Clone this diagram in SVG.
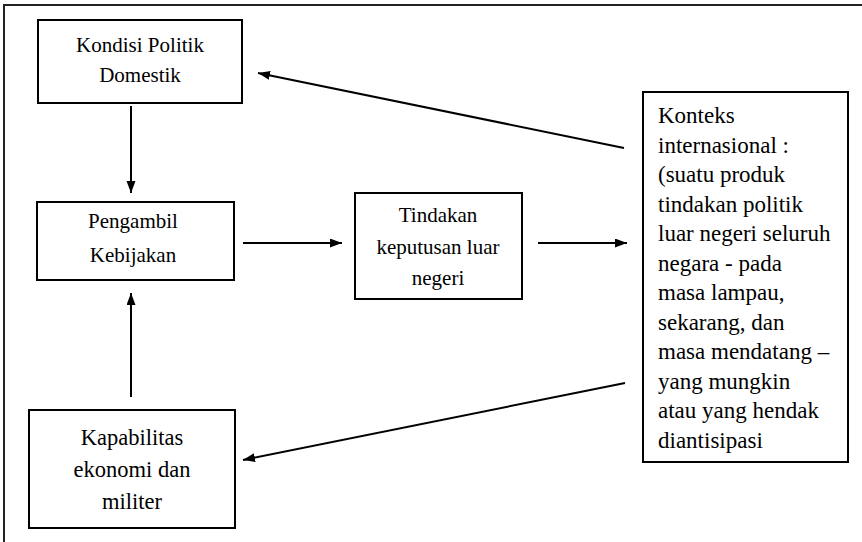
<svg xmlns="http://www.w3.org/2000/svg" width="862" height="542" viewBox="0 0 862 542">
<style>
.box{fill:#fff;stroke:#000;stroke-width:2}
.t{font-family:"Liberation Serif","Times New Roman","DejaVu Serif",serif;font-size:21px;fill:#000;text-anchor:middle}
.tk{font-family:"Liberation Serif","Times New Roman","DejaVu Serif",serif;font-size:23px;fill:#000}
.c{stroke:#000;stroke-width:2;fill:none}
</style>
<defs>
<marker id="ah" markerUnits="userSpaceOnUse" markerWidth="13" markerHeight="10" refX="12" refY="4.5" orient="auto">
<path d="M0,0 L12,4.5 L0,9 z" fill="#000"/>
</marker>
</defs>
<rect width="862" height="542" fill="#fff"/>
<path d="M4,542 V5 H862" fill="none" stroke="#222" stroke-width="2"/>
<g id="kondisi">
<rect class="box" x="38" y="20" width="204" height="83"/>
<text class="t" x="140" y="52">Kondisi Politik</text>
<text class="t" x="140" y="82">Domestik</text>
</g>
<g id="pengambil">
<rect class="box" x="37" y="202" width="197" height="78"/>
<text class="t" x="133" y="228">Pengambil</text>
<text class="t" x="133" y="262">Kebijakan</text>
</g>
<g id="tindakan">
<rect class="box" x="355" y="193" width="167" height="106"/>
<text class="t" x="438" y="222">Tindakan</text>
<text class="t" x="438" y="254">keputusan luar</text>
<text class="t" x="438" y="285">negeri</text>
</g>
<g id="kapabilitas">
<rect class="box" x="29" y="410" width="206" height="118"/>
<text class="t" x="132" y="445" style="font-size:22.5px">Kapabilitas</text>
<text class="t" x="132" y="477" style="font-size:22.5px">ekonomi dan</text>
<text class="t" x="132" y="509" style="font-size:22.5px">militer</text>
</g>
<g id="konteks">
<rect class="box" x="643" y="92" width="205" height="370"/>
<text class="tk" x="658" y="123">Konteks</text>
<text class="tk" x="658" y="152.5">internasional :</text>
<text class="tk" x="658" y="182">(suatu produk</text>
<text class="tk" x="658" y="211.5">tindakan politik</text>
<text class="tk" x="658" y="241">luar negeri seluruh</text>
<text class="tk" x="658" y="270.5">negara - pada</text>
<text class="tk" x="658" y="300">masa lampau,</text>
<text class="tk" x="658" y="329.5">sekarang, dan</text>
<text class="tk" x="658" y="359">masa mendatang –</text>
<text class="tk" x="658" y="388.5">yang mungkin</text>
<text class="tk" x="658" y="418">atau yang hendak</text>
<text class="tk" x="658" y="447.5">diantisipasi</text>
</g>
<g id="connectors">
<line class="c" x1="131" y1="106" x2="131" y2="193" marker-end="url(#ah)"/>
<line class="c" x1="131" y1="397" x2="131" y2="293" marker-end="url(#ah)"/>
<line class="c" x1="243" y1="243" x2="342" y2="243" marker-end="url(#ah)"/>
<line class="c" x1="538" y1="243" x2="627" y2="243" marker-end="url(#ah)"/>
<line class="c" x1="624" y1="148" x2="258" y2="73" marker-end="url(#ah)"/>
<line class="c" x1="625" y1="383" x2="243" y2="460" marker-end="url(#ah)"/>
</g>
</svg>
